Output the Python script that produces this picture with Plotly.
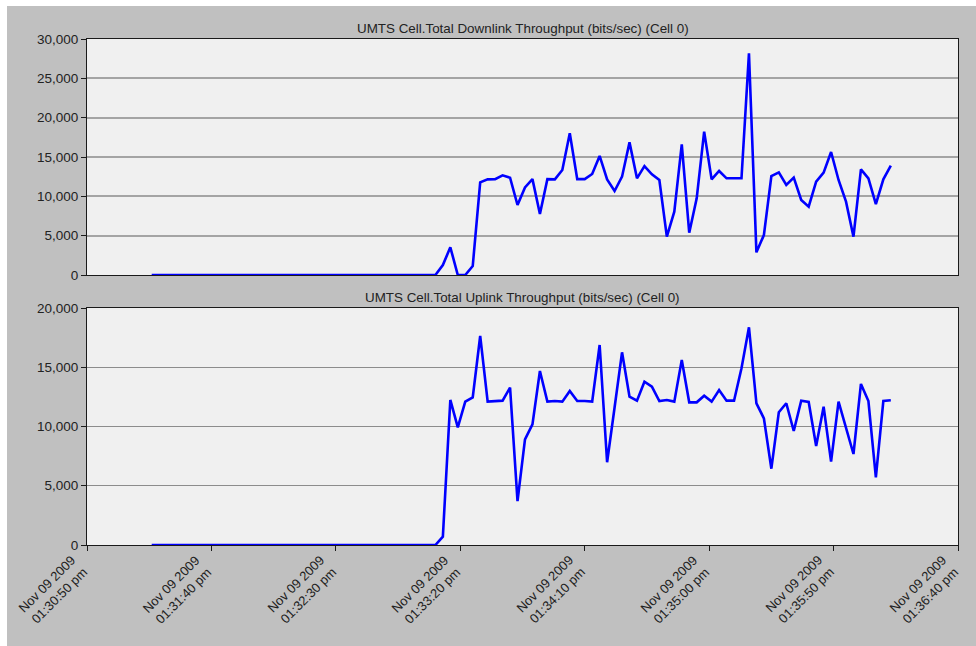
import pandas as pd
import plotly.graph_objects as go
from plotly.subplots import make_subplots

# Sampling: one reading every 3 seconds, starting 01:31:16 pm
start_time = "2009-11-09 13:31:16"
sample_period_s = 3

# Total downlink throughput (bits/sec), 100 samples
downlink = [0] * 38 + [
    0, 1270, 3520, 0, 0, 1140, 11780, 12160, 12190, 12670,
    12370, 8900, 11140, 12190, 7750, 12190, 12150, 13350, 18010, 12190,
    12190, 12840, 15130, 12150, 10680, 12500, 16860, 12290, 13850, 12800,
    12080, 4870, 8050, 16610, 5380, 9750, 18220, 12160, 13220, 12290,
    12290, 12290, 28180, 2880, 5080, 12580, 13050, 11440, 12370, 9530,
    8680, 11860, 13010, 15640, 12080, 9320, 4870, 13430, 12290, 9020,
    12160, 13890,
]

# Total uplink throughput (bits/sec), 100 samples
uplink = [0] * 38 + [
    0, 700, 12240, 9930, 12100, 12460, 17640, 12100, 12150, 12180,
    13280, 3710, 8920, 10180, 14680, 12100, 12150, 12100, 13000, 12150,
    12150, 12100, 16880, 6980, 11600, 16260, 12520, 12180, 13780, 13360,
    12150, 12240, 12100, 15610, 12040, 12040, 12600, 12100, 13080, 12180,
    12180, 14910, 18370, 11960, 10690, 6440, 11200, 11960, 9620, 12180,
    12070, 8350, 11670, 7030, 12100, 9840, 7680, 13590, 12150, 5710,
    12150, 12210,
]

times = pd.date_range(start_time, periods=len(downlink), freq=f"{sample_period_s}s")

x_tick_times = [
    "2009-11-09 13:30:50", "2009-11-09 13:31:40", "2009-11-09 13:32:30",
    "2009-11-09 13:33:20", "2009-11-09 13:34:10", "2009-11-09 13:35:00",
    "2009-11-09 13:35:50", "2009-11-09 13:36:40",
]
x_tick_labels = [
    "Nov 09 2009<br>01:30:50 pm", "Nov 09 2009<br>01:31:40 pm",
    "Nov 09 2009<br>01:32:30 pm", "Nov 09 2009<br>01:33:20 pm",
    "Nov 09 2009<br>01:34:10 pm", "Nov 09 2009<br>01:35:00 pm",
    "Nov 09 2009<br>01:35:50 pm", "Nov 09 2009<br>01:36:40 pm",
]

titles = [
    "UMTS Cell.Total Downlink Throughput (bits/sec) (Cell 0)",
    "UMTS Cell.Total Uplink Throughput (bits/sec) (Cell 0)",
]

W, H = 976, 646
ML, MR, MT, MB = 87, 18, 39, 101
plot_h = H - MT - MB
plot_w = W - ML - MR

FONT = "Liberation Sans, Arial, sans-serif"
TEXT = "#222222"
AXIS = "#1a1a1a"
LINE_BLUE = "#0000ff"

fig = make_subplots(rows=2, cols=1, shared_xaxes=False)

fig.add_trace(go.Scatter(x=times, y=downlink, mode="lines",
                         line=dict(color=LINE_BLUE, width=2.6),
                         hoverinfo="skip", showlegend=False), row=1, col=1)
fig.add_trace(go.Scatter(x=times, y=uplink, mode="lines",
                         line=dict(color=LINE_BLUE, width=2.6),
                         hoverinfo="skip", showlegend=False), row=2, col=1)

x_range = [pd.Timestamp(x_tick_times[0]),
           pd.Timestamp(x_tick_times[-1]) + pd.Timedelta(milliseconds=1)]
common_x = dict(
    type="date", range=x_range, showgrid=False, zeroline=False,
    showline=True, linecolor=AXIS, linewidth=1, mirror=True,
    tickvals=x_tick_times, showticklabels=False, layer="below traces",
)
ytick_font = dict(family=FONT, size=13.5, color=TEXT)
fig.update_layout(
    xaxis=dict(**common_x, domain=[0, 1], anchor="y", ticks=""),
    xaxis2=dict(**common_x, domain=[0, 1], anchor="y2", ticks="outside",
                ticklen=5, tickcolor=AXIS),
    yaxis=dict(domain=[(545 - 275) / plot_h, 1.0], range=[0, 30000],
               dtick=5000, tickformat=",", showgrid=True,
               gridcolor="#a4a4a4", gridwidth=2, zeroline=False,
               showline=True, linecolor=AXIS, mirror=True,
               ticks="outside", ticklen=5, tickcolor=AXIS,
               tickfont=ytick_font, layer="below traces"),
    yaxis2=dict(domain=[0, (545 - 308) / plot_h], range=[0, 20000],
                dtick=5000, tickformat=",", showgrid=True,
                gridcolor="#8c8c8c", gridwidth=1.2, zeroline=False,
                showline=True, linecolor=AXIS, mirror=True,
                ticks="outside", ticklen=5, tickcolor=AXIS,
                tickfont=ytick_font, layer="below traces"),
)

# Diagonal date/time labels under the lower panel, ending at each tick
for t, label in zip(x_tick_times, x_tick_labels):
    fig.add_annotation(text=label, x=t, xref="x2", y=0, yref="paper",
                       xanchor="center", yanchor="middle", align="right",
                       textangle=-45, xshift=-34, yshift=-45,
                       showarrow=False,
                       font=dict(family=FONT, size=13, color=TEXT))

# Panel titles centred over each plot
for title, y_px in zip(titles, [29, 298]):
    fig.add_annotation(text=title, xref="paper", yref="paper",
                       x=0.5, y=(H - MB - y_px) / plot_h,
                       xanchor="center", yanchor="middle", showarrow=False,
                       font=dict(family=FONT, size=13.4, color=TEXT))

# Thin white frame along the top and left page edges
fig.add_shape(type="rect", xref="paper", yref="paper", layer="below",
              x0=-ML / plot_w - 0.01, x1=(W - ML) / plot_w + 0.01,
              y0=(H - MB - 6) / plot_h, y1=(H - MB) / plot_h + 0.01,
              line=dict(width=0), fillcolor="white")
fig.add_shape(type="rect", xref="paper", yref="paper", layer="below",
              x0=-ML / plot_w - 0.01, x1=(7 - ML) / plot_w,
              y0=-MB / plot_h - 0.01, y1=(H - MB) / plot_h + 0.01,
              line=dict(width=0), fillcolor="white")

fig.update_layout(
    width=W, height=H,
    margin=dict(l=ML, r=MR, t=MT, b=MB, pad=0),
    paper_bgcolor="#c0c0c0", plot_bgcolor="#f0f0f0",
    font=dict(family=FONT, size=13, color=TEXT),
    showlegend=False,
)

fig.write_html("out.html", config={"displayModeBar": False})
